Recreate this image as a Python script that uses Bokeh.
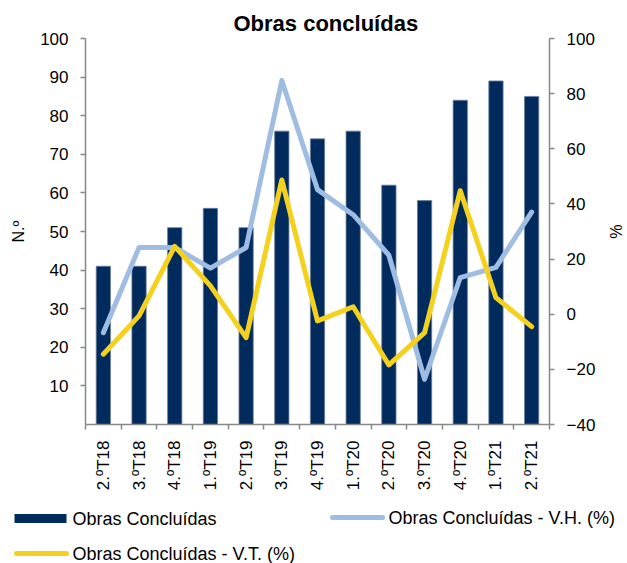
import math
from bokeh.plotting import figure
from bokeh.layouts import column, row
from bokeh.models import (Range1d, LinearAxis, FixedTicker, ColumnDataSource)
from bokeh.core.properties import value
from bokeh.embed import file_html
from bokeh.resources import INLINE

# ---- data ----
categories = ["2.ºT18", "3.ºT18", "4.ºT18", "1.ºT19", "2.ºT19", "3.ºT19", "4.ºT19",
              "1.ºT20", "2.ºT20", "3.ºT20", "4.ºT20", "1.ºT21", "2.ºT21"]
obras = [41, 41, 51, 56, 51, 76, 74, 76, 62, 58, 84, 89, 85]
vh = [-6.7, 24.2, 24.2, 16.7, 24.2, 84.8, 45.2, 36.1, 21.4, -23.6, 13.3, 17.0, 37.0]
vt = [-14.5, -0.6, 24.6, 10.3, -8.5, 48.7, -2.4, 2.7, -18.4, -6.7, 44.8, 6.0, -4.5]
left_ticks = [10, 20, 30, 40, 50, 60, 70, 80, 90, 100]
right_ticks = [-40, -20, 0, 20, 40, 60, 80, 100]
series_names = ["Obras Concluídas", "Obras Concluídas - V.H. (%)",
                "Obras Concluídas - V.T. (%)"]

xpos = [i + 0.5 for i in range(len(categories))]
src = ColumnDataSource(dict(x=xpos, cat=categories, obras=obras, vh=vh, vt=vt))

FONT = "Liberation Sans"
AXIS_COLOR = "#898989"
NAVY = "#002b5c"
LBLUE = "#9fbde3"
YELLOW = "#f4d11f"

p = figure(width=627, height=495, output_backend="svg", toolbar_location=None,
           x_range=Range1d(0, len(categories)), y_range=Range1d(0, 100),
           min_border_left=85, min_border_right=76, min_border_top=38,
           min_border_bottom=71, title="Obras concluídas")
p.extra_y_ranges = {"pct": Range1d(-40, 100)}

p.title.text_font = FONT
p.title.text_font_size = "22px"
p.title.text_font_style = "bold"
p.title.align = "left"
p.title.offset = 148
p.title.text_color = "#000000"
p.title.standoff = 5

p.outline_line_color = None
p.xgrid.visible = False
p.ygrid.visible = False
p.background_fill_color = "white"
p.border_fill_color = "white"

bars = p.vbar(x="x", top="obras", width=0.4, source=src, fill_color=NAVY,
              line_color="#6b7f9c", line_width=0.8)
l_vh = p.line(x="x", y="vh", source=src, y_range_name="pct", line_color=LBLUE,
              line_width=5, line_join="round", line_cap="round")
l_vt = p.line(x="x", y="vt", source=src, y_range_name="pct", line_color=YELLOW,
              line_width=5, line_join="round", line_cap="round")

# x axis
xa = p.xaxis[0]
xa.ticker = FixedTicker(ticks=xpos, minor_ticks=list(range(len(categories) + 1)))
xa.major_label_overrides = {x: c for x, c in zip(xpos, categories)}
xa.major_label_orientation = math.pi / 2
xa.major_tick_line_color = None
xa.major_tick_out = 0
xa.major_tick_in = 0
xa.minor_tick_line_color = AXIS_COLOR
xa.minor_tick_line_width = 1.5
xa.minor_tick_out = 5
xa.minor_tick_in = 0
xa.major_label_standoff = 11
xa.axis_line_color = AXIS_COLOR
xa.axis_line_width = 1.5
xa.major_label_text_font = FONT
xa.major_label_text_font_size = "17px"
xa.major_label_text_color = "#000000"

# left axis
ya = p.yaxis[0]
ya.ticker = FixedTicker(ticks=left_ticks)
ya.axis_label = "N.º"
ya.axis_label_text_font = FONT
ya.axis_label_text_font_size = "16px"
ya.axis_label_text_font_style = "normal"
ya.axis_label_text_color = "#000000"
ya.axis_label_standoff = 10
ya.major_label_text_font = FONT
ya.major_label_text_font_size = "17px"
ya.major_label_text_color = "#000000"
ya.major_label_standoff = 12
ya.major_tick_out = 5
ya.major_tick_in = 0
ya.major_tick_line_color = AXIS_COLOR
ya.major_tick_line_width = 1.5
ya.minor_tick_line_color = None
ya.axis_line_color = AXIS_COLOR
ya.axis_line_width = 1.5

# right axis
ra = LinearAxis(y_range_name="pct", ticker=FixedTicker(ticks=right_ticks),
                axis_label="%")
ra.axis_label_text_font = FONT
ra.axis_label_text_font_size = "16px"
ra.axis_label_text_font_style = "normal"
ra.axis_label_text_color = "#000000"
ra.axis_label_standoff = 9
ra.major_label_text_font = FONT
ra.major_label_text_font_size = "17px"
ra.major_label_text_color = "#000000"
ra.major_label_standoff = 12
ra.major_tick_out = 5
ra.major_tick_in = 0
ra.major_tick_line_color = AXIS_COLOR
ra.major_tick_line_width = 1.5
ra.minor_tick_line_color = None
ra.axis_line_color = AXIS_COLOR
ra.axis_line_width = 1.5
p.add_layout(ra, "right")

# ---- legend strip: a separate figure in pixel-like coordinates ----
LW, LH = 627, 68
pl = figure(width=LW, height=LH, output_backend="svg", toolbar_location=None,
            x_axis_location=None, y_axis_location=None,
            x_range=Range1d(0, LW), y_range=Range1d(LH, 0),
            min_border_left=0, min_border_right=0, min_border_top=0,
            min_border_bottom=0)
pl.outline_line_color = None
pl.xgrid.visible = False
pl.ygrid.visible = False
pl.background_fill_color = "white"
pl.border_fill_color = "white"

# legend layout (swatch start x, row centre y) per series
leg_x = [14, 330, 14]
leg_y = [23, 22, 58]
SW = 52
pl.quad(left=leg_x[0], right=leg_x[0] + SW, top=leg_y[0] - 4.5,
        bottom=leg_y[0] + 4.5, fill_color=NAVY, line_color=None)
pl.segment(x0=leg_x[1] + 2, y0=leg_y[1], x1=leg_x[1] + SW, y1=leg_y[1],
           line_color=LBLUE, line_width=5, line_cap="round")
pl.segment(x0=leg_x[2] + 2, y0=leg_y[2], x1=leg_x[2] + SW, y1=leg_y[2],
           line_color=YELLOW, line_width=5, line_cap="round")
lsrc = ColumnDataSource(dict(x=[x + SW + 6 for x in leg_x], y=leg_y,
                             t=series_names))
pl.text(x="x", y="y", text="t", source=lsrc, text_font=value(FONT),
        text_font_size="18px", text_color="#000000", text_baseline="middle",
        text_align="left")

layout = column(p, row(pl), spacing=0)
open("out.html", "w").write(file_html(layout, INLINE))
